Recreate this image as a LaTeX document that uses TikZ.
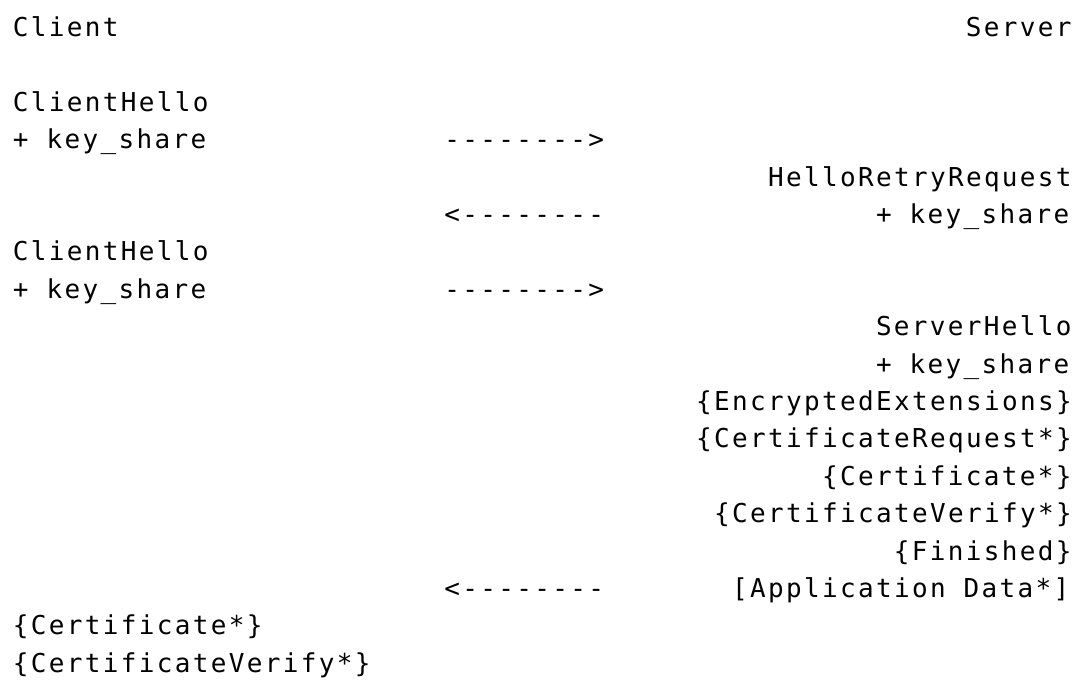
\documentclass[tikz,border=0pt]{standalone}
\usepackage{fontspec}
\newfontfamily\flowfont[LetterSpace=9.0,Ligatures=TeXOff]{DejaVu Sans Mono}
\tikzset{
	msg/.style={anchor=base west, inner sep=0pt, font=\flowfont\fontsize{19.5}{24}\selectfont},
}
\begin{document}
\begin{tikzpicture}[x=13.485pt,y=-28.05pt]
		\fill[white] (-0.706,-0.976) rectangle (59.917,17.34);
		\useasboundingbox (-0.706,-0.976) rectangle (59.917,17.34);

		\node[msg] (client) at (0,0) {Client};
		\node[msg] (server) at (53,0) {Server};

		\node[msg] (hello1) at (0,2) {ClientHello};
		\node[msg] (share1) at (0,3) {+ key\_share};
		\node[msg] (arr1) at (24,3) {-------->};

		\node[msg] (retry) at (42,4) {HelloRetryRequest};
		\node[msg] (arr2) at (24,5) {<--------};
		\node[msg] (share2) at (48,5) {+ key\_share};

		\node[msg] (hello2) at (0,6) {ClientHello};
		\node[msg] (share3) at (0,7) {+ key\_share};
		\node[msg] (arr3) at (24,7) {-------->};

		\node[msg] (srvhello) at (48,8) {ServerHello};
		\node[msg] (share4) at (48,9) {+ key\_share};
		\node[msg] (encext) at (38,10) {\{EncryptedExtensions\}};
		\node[msg] (certreq) at (38,11) {\{CertificateRequest*\}};
		\node[msg] (srvcert) at (45,12) {\{Certificate*\}};
		\node[msg] (srvverify) at (39,13) {\{CertificateVerify*\}};
		\node[msg] (srvfin) at (49,14) {\{Finished\}};
		\node[msg] (arr4) at (24,15) {<--------};
		\node[msg] (appdata) at (40,15) {[Application Data*]};

		\node[msg] (clicert) at (0,16) {\{Certificate*\}};
		\node[msg] (cliverify) at (0,17) {\{CertificateVerify*\}};
	\end{tikzpicture}
\end{document}
